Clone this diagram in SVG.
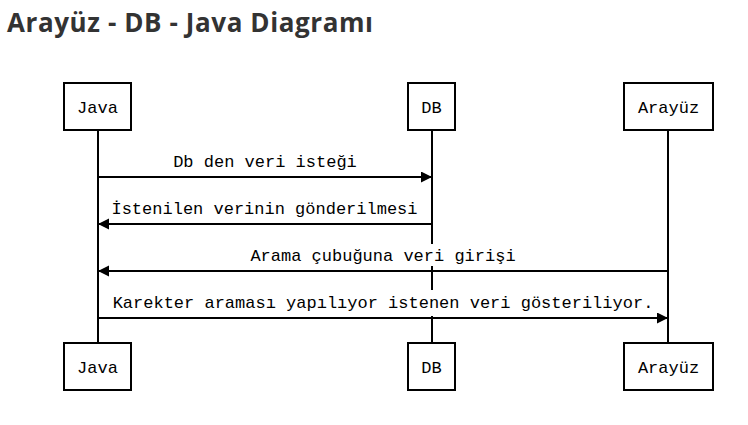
<svg xmlns="http://www.w3.org/2000/svg" width="748" height="425" viewBox="0 0 748 425">
<style>
.title{font-family:"Open Sans","Liberation Sans",sans-serif;font-weight:bold;font-size:26px;fill:#333}
.box{fill:#fff;stroke:#000;stroke-width:2}
.life{stroke:#000;stroke-width:2}
.msg{stroke:#000;stroke-width:2;fill:none}
.t{font-family:"Liberation Mono","DejaVu Sans Mono",monospace;font-size:17px;fill:#000;text-anchor:middle}
.bg{fill:#fff}
</style>
<defs>
<marker id="ah" markerUnits="userSpaceOnUse" markerWidth="12" markerHeight="12" refX="11" refY="5.5" orient="auto">
<path d="M0,0 L11,5.5 L0,11 z" fill="#000"/>
</marker>
</defs>
<rect width="748" height="425" fill="#fff"/>
<text class="title" x="7" y="32" textLength="366" lengthAdjust="spacing">Arayüz - DB - Java Diagramı</text>
<g id="lifelines">
<line class="life" x1="98" y1="130" x2="98" y2="343"/>
<line class="life" x1="432" y1="130" x2="432" y2="343"/>
<line class="life" x1="668" y1="130" x2="668" y2="343"/>
</g>
<g id="java">
<rect class="box" x="64" y="83" width="67" height="47"/>
<text class="t" x="97.5" y="112.5">Java</text>
<rect class="box" x="64" y="343" width="67" height="47"/>
<text class="t" x="97.5" y="372.5">Java</text>
</g>
<g id="db">
<rect class="box" x="408" y="83" width="47" height="47"/>
<text class="t" x="431.5" y="112.5">DB</text>
<rect class="box" x="408" y="343" width="47" height="47"/>
<text class="t" x="431.5" y="372.5">DB</text>
</g>
<g id="arayuz">
<rect class="box" x="624" y="83" width="89" height="47"/>
<text class="t" x="668.5" y="112.5">Arayüz</text>
<rect class="box" x="624" y="343" width="89" height="47"/>
<text class="t" x="668.5" y="372.5">Arayüz</text>
</g>
<g id="connectors">
<rect class="bg" x="170" y="150" width="190" height="22"/>
<text class="t" x="265" y="167">Db den veri isteği</text>
<line class="msg" x1="98" y1="177" x2="432" y2="177" marker-end="url(#ah)"/>
<rect class="bg" x="108" y="197" width="312" height="22"/>
<text class="t" x="264.5" y="214">İstenilen verinin gönderilmesi</text>
<line class="msg" x1="432" y1="224" x2="98" y2="224" marker-end="url(#ah)"/>
<rect class="bg" x="248" y="244" width="270" height="22"/>
<text class="t" x="383" y="261">Arama çubuğuna veri girişi</text>
<line class="msg" x1="668" y1="271" x2="98" y2="271" marker-end="url(#ah)"/>
<rect class="bg" x="110" y="290" width="546" height="26"/>
<text class="t" x="383" y="308">Karekter araması yapılıyor istenen veri gösteriliyor.</text>
<line class="msg" x1="98" y1="318" x2="668" y2="318" marker-end="url(#ah)"/>
</g>
</svg>
